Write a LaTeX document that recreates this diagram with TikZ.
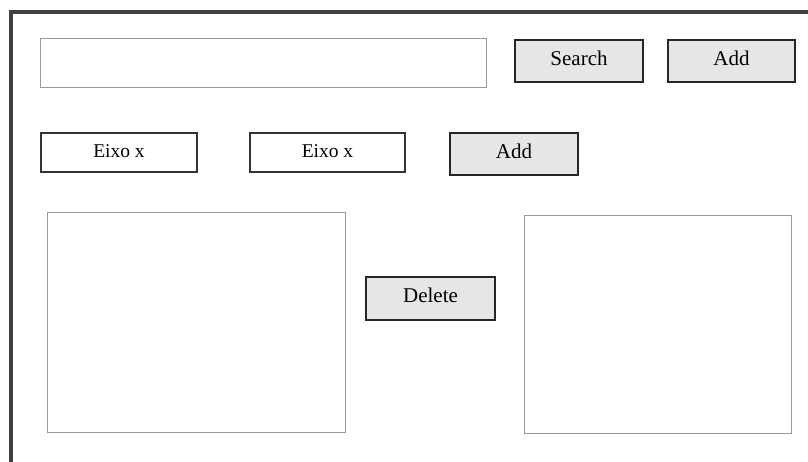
\documentclass[tikz,border=0pt]{standalone}
\usepackage{fontspec}
\setmainfont{Liberation Serif}
\definecolor{framegray}{HTML}{404040}
\definecolor{fieldgray}{HTML}{999999}
\definecolor{btnfill}{HTML}{E6E6E6}

\begin{document}
\begin{tikzpicture}[%
    x=1pt, y=-1pt,              % Screen coordinates, y grows downwards
    every node/.style={anchor=north west, inner sep=0pt, outer sep=0pt},
    ]
% -------------------------------------------------
% A few box styles
\tikzset{
  base/.style={draw, rectangle, align=center},
  field/.style={base, draw=fieldgray, line width=1pt},
  axis/.style={base, draw=black!80, line width=1.2pt, fill=white,
    font=\fontsize{19.5}{21}\selectfont, text height=13.2pt, text depth=4pt},
  button/.style={base, draw=black!85, line width=1.3pt, fill=btnfill,
    font=\fontsize{21}{23}\selectfont, text height=14.3pt, text depth=6pt},
  window/.style={draw=framegray, line width=4pt}
}
% -------------------------------------------------
\useasboundingbox (0,0) rectangle (808,462);
\clip (0,0) rectangle (808,462);
% Window frame, cut by the page edge
\draw [window] (10.7,12) rectangle (840,490);

% Top row: search field and its buttons
\node [field, minimum width=446pt, minimum height=49pt] (searchfield) at (40,39) {};
\node [button, minimum width=128pt, minimum height=42pt] (search) at (515,40) {Search};
\node [button, minimum width=127pt, minimum height=42pt] (add) at (668,40) {Add};

% Second row: the two axis boxes
\node [axis, minimum width=156pt, minimum height=39pt] (eixoa) at (41,133) {Eixo x};
\node [axis, minimum width=155pt, minimum height=39pt] (eixob) at (250,133) {Eixo x};
\node [button, minimum width=128pt, minimum height=42pt] (addaxis) at (450,133) {Add};

% Lists with the delete button between them
\node [field, minimum width=298pt, minimum height=219pt] (listleft) at (47,213) {};
\node [button, minimum width=129pt, minimum height=43pt] (delete) at (366,277) {Delete};
\node [field, minimum width=267pt, minimum height=217pt] (listright) at (524,216) {};
% -------------------------------------------------
\end{tikzpicture}
\end{document}
